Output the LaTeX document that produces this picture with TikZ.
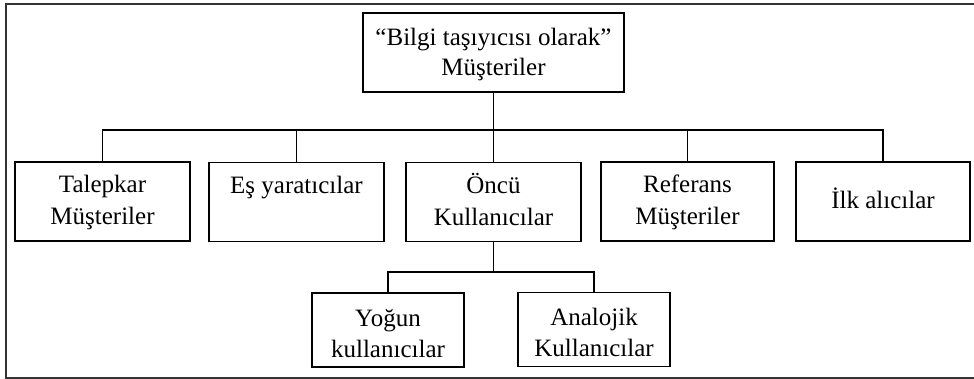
\documentclass[tikz,border=0pt]{standalone}
\usepackage{fontspec}
\setmainfont{Liberation Serif}
\newcommand\hstrut[1]{\rule{0pt}{#1pt}}
\newcommand\dstrut{\rule[-6pt]{0pt}{6pt}}
\begin{document}
\begin{tikzpicture}[x=1pt,y=-1pt,
  box/.style={draw=black, line width=1.8pt, rectangle, inner sep=0pt, align=center,
    font=\fontsize{25}{32}\selectfont},
  rowbox/.style={box, minimum width=175pt, minimum height=79pt},
  lowbox/.style={box, minimum width=152pt, minimum height=74pt, font=\fontsize{25}{31}\selectfont},
  link/.style={draw=black, line width=1.5pt}]
\useasboundingbox (0,0) rectangle (974,379);
\draw[line width=2pt, draw=black!80] (974,4) -- (6,4) -- (6,378) -- (974,378);
\node[box, minimum width=261pt, minimum height=79pt, font=\fontsize{25}{29.5}\selectfont] (top) at (493.5,52.5) {\hstrut{22.5}“Bilgi taşıyıcısı olarak”\\Müşteriler\dstrut};
\node[rowbox] (t1) at (102.5,201.5) {\hstrut{21}Talepkar\\Müşteriler\dstrut};
\node[rowbox] (t2) at (296.5,202) {\hstrut{21}Eş yaratıcılar\\\dstrut};
\node[rowbox] (t3) at (493.5,202) {\hstrut{21}Öncü\\Kullanıcılar\dstrut};
\node[rowbox, minimum width=173pt] (t4) at (687.5,201.5) {\hstrut{21}Referans\\Müşteriler\dstrut};
\node[rowbox, minimum width=174pt] (t5) at (883,201.5) {\hstrut{21}İlk alıcılar\dstrut};
\node[lowbox] (b1) at (388,330) {\hstrut{29}Yoğun\\kullanıcılar\dstrut};
\node[lowbox] (b2) at (594,329.5) {\hstrut{29}Analojik\\Kullanıcılar\dstrut};
\coordinate (bus) at (0,130);
\coordinate (bus2) at (0,272);
\draw[link] (top.south) -- (top.south |- bus);
\draw[link] (t1.north) -- (t1.north |- bus) -- (t5.north |- bus) -- (t5.north);
\draw[link] (t2.north) -- (t2.north |- bus);
\draw[link] (t3.north) -- (t3.north |- bus);
\draw[link] (t4.north) -- (t4.north |- bus);
\draw[link] (t3.south) -- (t3.south |- bus2);
\draw[link] (b1.north) -- (b1.north |- bus2) -- (b2.north |- bus2) -- (b2.north);
\end{tikzpicture}
\end{document}
